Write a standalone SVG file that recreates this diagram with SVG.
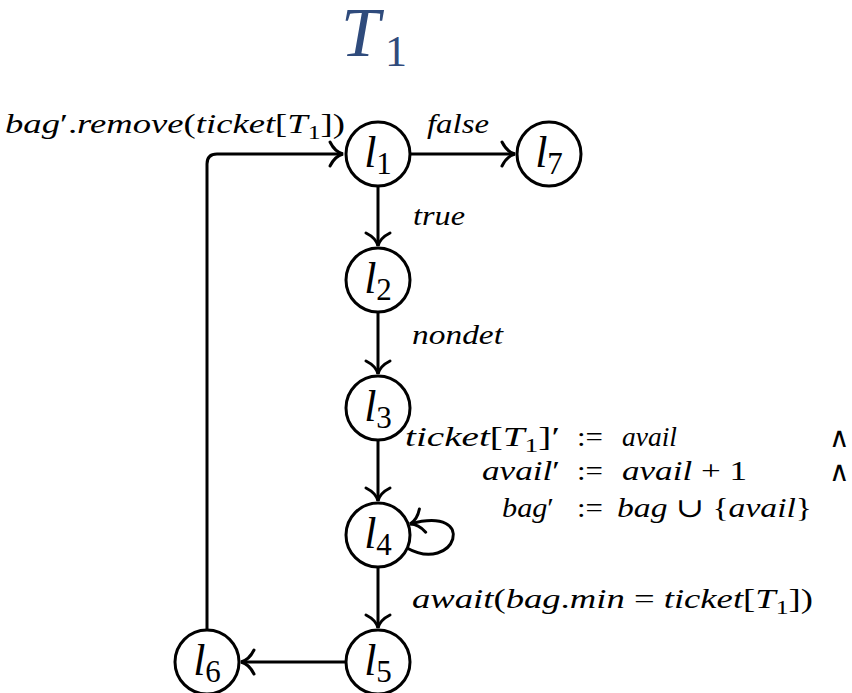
<svg xmlns="http://www.w3.org/2000/svg" width="852" height="693" viewBox="0 0 852 693">
  <style>
    .node circle { fill: #ffffff; stroke: #000000; stroke-width: 3; }
    .nl { font-family: "Liberation Serif", "DejaVu Serif", serif; fill: #000000; text-anchor: middle; }
    .nl .v { font-style: italic; font-size: 44px; }
    .nl .s { font-style: normal; font-size: 31px; }
    .edge { fill: none; stroke: #000000; stroke-width: 3; }
    .lbl { font-family: "Liberation Serif", "DejaVu Serif", serif; font-style: italic; font-size: 27px; fill: #000000; }
    .up { font-style: normal; }
    .sub { font-style: normal; font-size: 19px; }
    .and { font-family: "DejaVu Serif", serif; font-size: 28px; fill: #000000; }
    .title { font-family: "Liberation Serif", "DejaVu Serif", serif; fill: #2f4b7c; }
  </style>
  <defs>
    <marker id="to" markerUnits="userSpaceOnUse" markerWidth="30" markerHeight="30" viewBox="-16 -15 20 30" refX="0" refY="0" orient="auto">
      <path d="M -13,-12 Q -8,-2 0,0 Q -8,2 -13,12" fill="none" stroke="#000000" stroke-width="3" stroke-linecap="round"/>
    </marker>
  </defs>

  <!-- process title -->
  <g id="title">
    <text class="title" x="341" y="56"><tspan font-size="70" font-style="italic">T</tspan><tspan font-size="44" dx="5" dy="10">1</tspan></text>
  </g>

  <!-- transitions -->
  <g id="edges">
    <path class="edge" d="M 410,154 L 515,154" marker-end="url(#to)"/>
    <path class="edge" d="M 378,187 L 378,246" marker-end="url(#to)"/>
    <path class="edge" d="M 378,313 L 378,374" marker-end="url(#to)"/>
    <path class="edge" d="M 378,441 L 378,501" marker-end="url(#to)"/>
    <path class="edge" d="M 407,548 C 455,575 480,505 410,524" marker-end="url(#to)"/>
    <path class="edge" d="M 378,568 L 378,628" marker-end="url(#to)"/>
    <path class="edge" d="M 345,662 L 241,662" marker-end="url(#to)"/>
    <path class="edge" d="M 207,630 L 207,164 Q 207,154 217,154 L 343,154" marker-end="url(#to)"/>
  </g>

  <!-- edge labels -->
  <g id="labels">
    <text class="lbl" x="5" y="133" textLength="340" lengthAdjust="spacingAndGlyphs">bag<tspan class="up">′.</tspan>remove<tspan class="up">(</tspan>ticket<tspan class="up">[</tspan>T<tspan class="sub" dy="6">1</tspan><tspan class="up" dy="-6">])</tspan></text>
    <text class="lbl" x="427" y="133" textLength="62" lengthAdjust="spacingAndGlyphs">false</text>
    <text class="lbl" x="413" y="225" textLength="52" lengthAdjust="spacingAndGlyphs">true</text>
    <text class="lbl" x="412" y="344" textLength="91" lengthAdjust="spacingAndGlyphs">nondet</text>

    <text class="lbl" x="405" y="446" textLength="155" lengthAdjust="spacingAndGlyphs">ticket<tspan class="up">[</tspan>T<tspan class="sub" dy="6">1</tspan><tspan class="up" dy="-6">]′</tspan></text>
    <text class="lbl up" x="577" y="446" textLength="26" lengthAdjust="spacingAndGlyphs">:=</text>
    <text class="lbl" x="622" y="446" textLength="55" lengthAdjust="spacingAndGlyphs">avail</text>
    <text class="and" x="829" y="447">∧</text>

    <text class="lbl" x="482" y="480" textLength="78" lengthAdjust="spacingAndGlyphs">avail<tspan class="up">′</tspan></text>
    <text class="lbl up" x="577" y="480" textLength="26" lengthAdjust="spacingAndGlyphs">:=</text>
    <text class="lbl" x="622" y="480" textLength="125" lengthAdjust="spacingAndGlyphs">avail <tspan class="up">+ 1</tspan></text>
    <text class="and" x="829" y="481">∧</text>

    <text class="lbl" x="502" y="517" textLength="52" lengthAdjust="spacingAndGlyphs">bag<tspan class="up">′</tspan></text>
    <text class="lbl up" x="577" y="517" textLength="26" lengthAdjust="spacingAndGlyphs">:=</text>
    <text class="lbl" x="617" y="517" textLength="195" lengthAdjust="spacingAndGlyphs">bag <tspan class="up">∪ {</tspan>avail<tspan class="up">}</tspan></text>

    <text class="lbl" x="412" y="608" textLength="401" lengthAdjust="spacingAndGlyphs">await<tspan class="up">(</tspan>bag<tspan class="up">.</tspan>min <tspan class="up">=</tspan> ticket<tspan class="up">[</tspan>T<tspan class="sub" dy="6">1</tspan><tspan class="up" dy="-6">])</tspan></text>
  </g>

  <!-- locations -->
  <g id="l1" class="node">
    <circle cx="378" cy="154" r="32"/>
    <text class="nl" x="378" y="167"><tspan class="v">l</tspan><tspan class="s" dy="7">1</tspan></text>
  </g>
  <g id="l7" class="node">
    <circle cx="549" cy="154" r="32"/>
    <text class="nl" x="549" y="167"><tspan class="v">l</tspan><tspan class="s" dy="7">7</tspan></text>
  </g>
  <g id="l2" class="node">
    <circle cx="378" cy="280" r="32"/>
    <text class="nl" x="378" y="293"><tspan class="v">l</tspan><tspan class="s" dy="7">2</tspan></text>
  </g>
  <g id="l3" class="node">
    <circle cx="378" cy="408" r="32"/>
    <text class="nl" x="378" y="421"><tspan class="v">l</tspan><tspan class="s" dy="7">3</tspan></text>
  </g>
  <g id="l4" class="node">
    <circle cx="378" cy="535" r="32"/>
    <text class="nl" x="378" y="548"><tspan class="v">l</tspan><tspan class="s" dy="7">4</tspan></text>
  </g>
  <g id="l5" class="node">
    <circle cx="378" cy="662" r="32"/>
    <text class="nl" x="378" y="675"><tspan class="v">l</tspan><tspan class="s" dy="7">5</tspan></text>
  </g>
  <g id="l6" class="node">
    <circle cx="207" cy="662" r="32"/>
    <text class="nl" x="207" y="675"><tspan class="v">l</tspan><tspan class="s" dy="7">6</tspan></text>
  </g>
</svg>
